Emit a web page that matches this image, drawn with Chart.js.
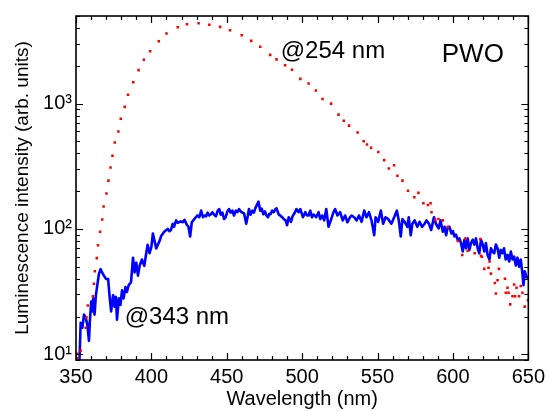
<!DOCTYPE html>
<html><head><meta charset="utf-8">
<script src="https://cdn.jsdelivr.net/npm/chart.js@4"></script>
<style>html,body{margin:0;padding:0;background:#fff;}</style>
</head><body>
<canvas id="c" width="550" height="411"></canvas>
<script>
// ---------- data ----------
const xTicks = [350, 400, 450, 500, 550, 600, 650];
const xTickLabels = ['350', '400', '450', '500', '550', '600', '650'];
const yTicks = [10, 100, 1000];
const yTickLabels = ['10\u00B9', '10\u00B2', '10\u00B3'];
const xTitle = 'Wavelength (nm)';
const yTitle = 'Luminescence intensity (arb. units)';

// excitation @254 nm (red dotted) [wavelength nm, intensity]
const exc254 = [
[350.9,9.3],[350.9,10.1],[353.1,10.7],[356.4,16.3],[356.9,19.7],[357.8,24.5],[361.2,29],[361.9,36.5],
[362.5,46],[363.8,58.5],[364.6,74],[366.0,95],[367.4,119],[368.3,151],[370.2,192],[371.5,243],
[372.9,309],[374.2,383],[375.7,489],[378.1,598],[379.7,757],[382.3,942],[384.5,1175],[388.0,1482],
[391.5,1849],[395.0,2238],[399.2,2614],[404.9,3141],[410.0,3630],[417.5,4066],[423.6,4300],[431.3,4375],
[438.4,4265],[445.6,4095],[452.2,3854],[459.9,3505],[466.2,3165],[472.2,2842],[478.8,2447],[483.0,2254],
[488.7,2024],[493.3,1862],[498.8,1575],[504.3,1449],[509.1,1271],[513.5,1089],[519.2,1000],[524.1,817],
[527.6,730],[531.1,667],[536.8,589],[540.8,501],[543.0,472],[545.7,445],[550.5,411],[554.4,354],
[557.5,303],[561.0,322],[563.2,266],[566.5,243],[570.2,202],[574.4,179],[577.1,194],[580.4,160],
[583.4,155],[585.2,160],[585.8,136],[588.2,118],[590.4,120],[593.3,117],[596.6,103],[603.2,80],
[606.2,62],[608.2,84],[609.8,67],[614.4,64],[618.2,83],[618.6,61],[619.2,60],[620.8,48],[623.6,49],
[624.3,55],[625.2,44],[627.8,37],[628.5,30.5],[629.6,39],[630.5,48],[634.5,40],[635.1,31],[636.2,34],
[636.9,31],[638.0,25],[639.5,29],[640.6,36],[641.3,29],[642.2,34],[643.9,29],[645.0,35],[646.1,31],
[647.6,24],[649.8,27]
];

// excitation @343 nm (blue solid) [wavelength nm, intensity]
const exc343 = [
[352.3,9.0],[353.1,17.8],[354.2,16.3],[355.3,20.7],[356.4,19.5],[357.5,17.3],[358.6,12.8],[359.2,18.4],
[360.1,26.3],[360.8,22],[361.4,27.9],[362.3,20.7],[363.2,29.6],[364.1,35.5],[365.2,43.7],[366.3,47.8],
[367.3,45],[368.5,42.4],[370.0,39.9],[371.3,39.9],[372.4,27.9],[373.3,22],[374.6,29.6],[375.5,24],
[376.4,28.8],[377.2,18.9],[378.4,27.9],[379.5,24.8],[380.5,32.4],[381.6,27.9],[382.8,34.4],[383.8,31.4],
[384.9,35.5],[386.5,37.6],[387.8,58.9],[388.9,45],[390.0,53.8],[391.1,42.4],[392.2,50.7],[393.7,57],
[395.3,50.7],[396.6,64.3],[397.5,74.6],[398.8,64],[400.0,72],[401.0,92],[403.2,70],[405.4,80],
[406.5,88],[408.5,95],[410.8,100],[412.0,96],[413.0,98],[414.1,110],[415.0,104],[416.4,117],
[417.5,112],[419.5,115],[420.7,113],[422.0,118],[423.5,108],[424.6,104],[425.7,87],[426.8,113],
[427.8,117],[429.0,122],[430.5,128],[431.8,124],[433.0,140],[434.2,124],[435.2,128],[436.3,126],
[437.3,135],[438.4,128],[439.5,131],[440.5,136],[441.6,130],[442.8,126],[444.0,140],[445.0,144],
[446.0,130],[447.1,135],[448.2,120],[449.3,124],[450.4,138],[451.5,144],[452.6,135],[453.7,140],
[454.8,128],[456.0,140],[457.0,136],[458.1,144],[459.2,138],[460.3,135],[461.5,133],[462.9,110],
[464.0,128],[464.7,144],[465.8,130],[466.9,140],[468.0,135],[469.1,148],[470.2,157],[471.0,165],
[472.2,140],[473.2,145],[474.2,131],[475.3,138],[476.3,128],[477.3,124],[478.2,132],[479.0,131],
[480.1,140],[481.2,136],[482.3,144],[483.0,146],[484.5,130],[485.5,128],[486.7,124],[487.8,120],
[489.0,117],[490.0,107],[491.1,124],[492.6,114],[493.5,125],[494.4,131],[495.3,136],[496.2,144],
[497.7,136],[498.8,144],[499.7,133],[500.5,124],[501.3,129],[502.1,136],[503.2,128],[504.3,128],
[505.4,140],[506.5,124],[507.5,130],[508.4,128],[509.3,124],[510.9,136],[512.0,120],[513.3,128],
[514.6,117],[516.0,144],[517.5,104],[519.0,117],[520.8,136],[521.9,144],[523.4,128],[525.2,136],
[526.9,117],[528.5,128],[530.0,113],[531.8,124],[532.8,128],[534.5,124],[536.1,117],[537.7,128],
[539.4,114],[541.2,140],[542.7,124],[544.3,136],[546.0,117],[547.8,89],[548.7,124],[550.4,114],
[552.2,140],[553.7,110],[555.3,124],[557.0,120],[559.2,110],[561.5,128],[562.8,140],[564.1,117],
[565.4,87],[566.5,120],[568.0,114],[569.8,104],[570.7,124],[572.0,89],[573.1,110],[574.6,117],
[576.4,104],[577.9,114],[579.5,104],[581.2,110],[582.5,117],[584.1,110],[585.6,98],[587.4,124],
[588.7,110],[590.5,101],[591.8,117],[593.3,95],[594.4,104],[595.5,89],[596.6,104],[597.7,104],
[599.0,92],[600.0,96],[601.0,87],[602.0,90],[603.2,82],[604.3,84],[605.4,77],[606.5,66],
[607.6,82],[608.7,70],[609.8,84],[610.9,68],[612.0,77],[613.1,82],[614.2,75],[615.3,84],
[616.4,70],[617.5,64],[618.6,82],[619.7,76],[620.8,66],[621.9,77],[623.0,62],[624.2,57],
[625.2,70],[626.3,66],[627.4,64],[628.5,75],[629.6,70],[630.7,59],[631.7,68],[632.8,64],
[633.9,70],[635.0,57],[636.2,62],[637.3,55],[638.4,66],[639.5,57],[640.6,60],[641.7,51],
[642.8,59],[643.9,50],[645.0,57],[646.1,44],[646.8,35.5],[647.6,46],[648.9,41],[650.0,41]
];

const annotations = [
  {text: '@254 nm', x: 485.8, y: 2300, size: 24},
  {text: '@343 nm', x: 382.3, y: 17.3, size: 24},
  {text: 'PWO',     x: 592.6, y: 2148, size: 26}
];

// ---------- drawing ----------
const FAM = '"Liberation Sans", Arial, Helvetica, sans-serif';

const framePlugin = {
  id: 'frame',
  afterDatasetsDraw(chart) {
    const {ctx, chartArea: a, scales: {x, y}} = chart;
    ctx.save();
    ctx.strokeStyle = '#000';
    // minor / major ticks, inward on all four sides
    ctx.lineWidth = 1.2;
    const xMinor = [];
    for (let v = xTicks[0]; v <= xTicks[xTicks.length - 1]; v += 10) if (!xTicks.includes(v)) xMinor.push(v);
    const yMinor = [];
    for (let d = 1; d <= 1000; d *= 10) for (let m = 2; m <= 9; m++) { const v = m * d; if (v >= y.min && v <= y.max && !yTicks.includes(v)) yMinor.push(v); }
    ctx.beginPath();
    const xt = (v, len) => { const px = Math.round(x.getPixelForValue(v)) + 0.5; ctx.moveTo(px, a.bottom); ctx.lineTo(px, a.bottom - len); ctx.moveTo(px, a.top); ctx.lineTo(px, a.top + len); };
    const yt = (v, len) => { const py = Math.round(y.getPixelForValue(v)) + 0.5; ctx.moveTo(a.left, py); ctx.lineTo(a.left + len, py); ctx.moveTo(a.right, py); ctx.lineTo(a.right - len, py); };
    xTicks.forEach(v => xt(v, 7)); xMinor.forEach(v => xt(v, 4));
    yTicks.forEach(v => yt(v, 7)); yMinor.forEach(v => yt(v, 4));
    ctx.stroke();
    ctx.lineWidth = 1.6;
    ctx.strokeRect(a.left, a.top, a.right - a.left, a.bottom - a.top);
    // annotations
    ctx.fillStyle = '#000';
    ctx.textAlign = 'left';
    ctx.textBaseline = 'alphabetic';
    annotations.forEach(t => {
      ctx.font = t.size + 'px ' + FAM;
      ctx.fillText(t.text, x.getPixelForValue(t.x), y.getPixelForValue(t.y));
    });
    ctx.restore();
  }
};

new Chart(document.getElementById('c'), {
  type: 'scatter',
  data: {
    datasets: [
      {
        label: '@254 nm',
        data: exc254.map(p => ({x: p[0], y: p[1]})),
        showLine: false,
        pointStyle: 'rect',
        pointRadius: 1.8,
        pointBorderWidth: 0,
        backgroundColor: '#ff0000',
        borderColor: '#ff0000'
      },
      {
        label: '@343 nm',
        data: exc343.map(p => ({x: p[0], y: p[1]})),
        showLine: true,
        borderColor: '#0000ff',
        backgroundColor: '#0000ff',
        borderWidth: 2.6,
        pointRadius: 0,
        tension: 0,
        borderJoinStyle: 'round'
      }
    ]
  },
  options: {
    responsive: false,
    animation: false,
    devicePixelRatio: 1,
    layout: {padding: {left: 0, right: 19, top: 7, bottom: 0}},
    plugins: {legend: {display: false}, tooltip: {enabled: false}},
    scales: {
      x: {
        type: 'linear', min: 350, max: 650,
        afterBuildTicks: s => { s.ticks = xTicks.map(v => ({value: v})); },
        afterFit: s => { s.height = 51; },
        grid: {display: false, drawTicks: false},
        border: {display: false},
        ticks: {
          autoSkip: false, maxRotation: 0, padding: 5, color: '#000',
          font: {family: FAM, size: 20},
          callback: v => { const i = xTicks.indexOf(v); return i >= 0 ? xTickLabels[i] : ''; }
        },
        title: {display: true, text: xTitle, color: '#000', font: {family: FAM, size: 20, lineHeight: 1.2}, padding: {top: 0, bottom: 0}}
      },
      y: {
        type: 'logarithmic', min: 9, max: 5000,
        afterBuildTicks: s => { s.ticks = yTicks.map(v => ({value: v})); },
        afterFit: s => { s.width = 76; },
        grid: {display: false, drawTicks: false},
        border: {display: false},
        ticks: {
          autoSkip: false, padding: 4, color: '#000',
          font: {family: FAM, size: 20},
          callback: v => { const i = yTicks.indexOf(v); return i >= 0 ? yTickLabels[i] : ''; }
        },
        title: {display: true, text: yTitle, color: '#000', font: {family: FAM, size: 19, lineHeight: 1.2}, padding: {top: 11.6, bottom: 0}}
      }
    }
  },
  plugins: [framePlugin]
});
</script>
</body></html>
